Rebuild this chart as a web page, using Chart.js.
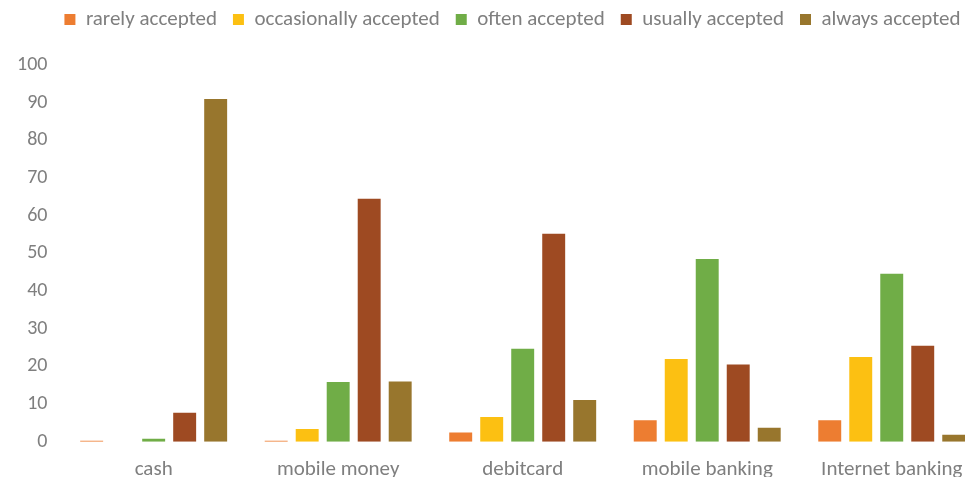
<!DOCTYPE html>
<html>
<head>
<meta charset="utf-8">
<script src="https://cdn.jsdelivr.net/npm/chart.js@4"></script>
<style>
  html, body { margin: 0; padding: 0; background: #fff; overflow: hidden; }
  #wrap { width: 965px; height: 477px; overflow: hidden; }
</style>
</head>
<body>
<div id="wrap"><canvas id="myChart" width="1018" height="497"></canvas></div>
<script>
const categories = ['cash', 'mobile money', 'debitcard', 'mobile banking', 'Internet banking']

const rarely = [0.3, 0.3, 2.5, 5.7, 5.7]
const occasionally = [0, 3.4, 6.6, 22, 22.5]
const often = [0.8, 15.9, 24.7, 48.5, 44.6]
const usually = [7.7, 64.5, 55.2, 20.5, 25.5]
const always = [91, 16, 11.1, 3.7, 1.9]

const yTicks = [0, 10, 20, 30, 40, 50, 60, 70, 80, 90, 100]

const font = "Calibri, Carlito, 'Open Sans', sans-serif"
const grey = '#7f7f7f'

// push the plot down below the legend and nudge the legend, like the excel original
const legendGap = {
  id: 'legendGap',
  beforeInit(chart) {
    const fit = chart.legend.fit
    chart.legend.fit = function () {
      fit.bind(chart.legend)()
      this.height += 18
    }
  },
  afterLayout(chart) {
    chart.legend.left += 19
    chart.legend.right += 19
    chart.legend.top -= 7
    chart.legend.bottom -= 7
  }
}

const ctx = document.getElementById('myChart')

new Chart(ctx, {
  type: 'bar',
  data: {
    labels: categories,
    datasets: [
      {label: 'rarely accepted', data: rarely, backgroundColor: '#ED7D31'},
      {label: 'occasionally accepted', data: occasionally, backgroundColor: '#FCC012'},
      {label: 'often accepted', data: often, backgroundColor: '#70AD47'},
      {label: 'usually accepted', data: usually, backgroundColor: '#9E4A22'},
      {label: 'always accepted', data: always, backgroundColor: '#98762D'},
    ]
  },
  options: {
    responsive: false,
    animation: false,
    datasets: {
      bar: {categoryPercentage: 0.84, barPercentage: 0.74}
    },
    layout: {padding: {left: 3, right: 34, top: 0, bottom: 0}},
    plugins: {
      legend: {
        position: 'top',
        labels: {
          boxWidth: 11,
          boxHeight: 11,
          padding: 16,
          color: grey,
          font: {family: font, size: 21}
        }
      },
      tooltip: {enabled: false}
    },
    scales: {
      x: {
        grid: {display: false, drawTicks: false},
        border: {display: false},
        ticks: {color: grey, padding: 15, font: {family: font, size: 21}}
      },
      y: {
        min: 0,
        max: 100,
        afterBuildTicks: (axis) => { axis.ticks = yTicks.map(v => ({value: v})) },
        grid: {display: false, drawTicks: false},
        border: {display: false},
        ticks: {color: grey, padding: 14, font: {family: font, size: 20}}
      }
    }
  },
  plugins: [legendGap]
})
</script>
</body>
</html>
